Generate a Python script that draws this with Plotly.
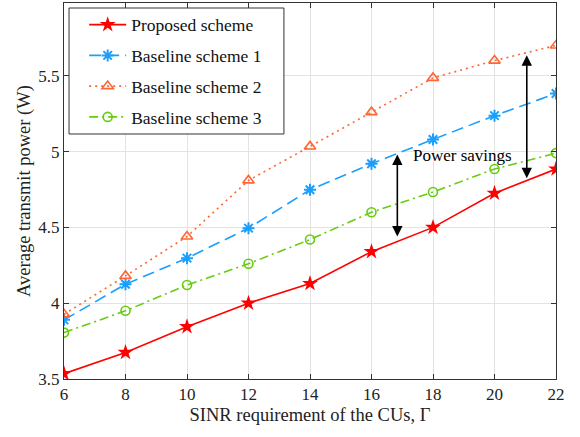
import plotly.graph_objects as go

x_vals = [6, 8, 10, 12, 14, 16, 18, 20, 22]
proposed = [3.535, 3.675, 3.845, 4.0, 4.13, 4.34, 4.50, 4.725, 4.885]
baseline1 = [3.89, 4.125, 4.297, 4.495, 4.748, 4.92, 5.08, 5.237, 5.383]
baseline2 = [3.927, 4.18, 4.44, 4.81, 5.034, 5.26, 5.486, 5.60, 5.70]
baseline3 = [3.806, 3.95, 4.12, 4.26, 4.42, 4.60, 4.733, 4.885, 4.99]

names = ["Proposed scheme", "Baseline scheme 1", "Baseline scheme 2", "Baseline scheme 3"]
x_ticks = [6, 8, 10, 12, 14, 16, 18, 20, 22]
y_ticks = [3.5, 4, 4.5, 5, 5.5]
y_tick_text = ["3.5", "4", "4.5", "5", "5.5"]

FONT = "Liberation Serif, Times New Roman, serif"
red = "#FF0000"
blue = "#1A9FFF"
orange = "#FF6633"
green = "#66CC11"

fig = go.Figure()
fig.add_trace(go.Scatter(x=x_vals, y=proposed, name=names[0], mode="lines+markers",
                         line=dict(color=red, width=1.6, dash="solid"),
                         marker=dict(symbol="star", size=12, color=red, line=dict(width=0)),
                         legendgroup="a"))
fig.add_trace(go.Scatter(x=x_vals, y=baseline1, name=names[1], mode="lines+markers",
                         line=dict(color=blue, width=1.6, dash="12px,6px"),
                         marker=dict(symbol="asterisk-open", size=10, color=blue, line=dict(width=2, color=blue)),
                         legendgroup="b"))
fig.add_trace(go.Scatter(x=x_vals, y=baseline2, name=names[2], mode="lines+markers",
                         line=dict(color=orange, width=1.6, dash="2px,4px"),
                         marker=dict(symbol="triangle-up-open", size=10, color=orange, line=dict(width=1.6, color=orange)),
                         legendgroup="c"))
fig.add_trace(go.Scatter(x=x_vals, y=baseline3, name=names[3], mode="lines+markers",
                         line=dict(color=green, width=1.6, dash="9px,4px,2px,4px"),
                         marker=dict(symbol="circle-open", size=9, color=green, line=dict(width=1.6, color=green)),
                         legendgroup="d"))

# double-headed arrows
arrows = [(16.84, 4.43, 4.98), (21.05, 4.815, 5.635)]
for ax_x, y0, y1 in arrows:
    fig.add_annotation(x=ax_x, y=y1, ax=ax_x, ay=y0, xref="x", yref="y", axref="x", ayref="y",
                       showarrow=True, arrowhead=2, arrowside="end+start", arrowsize=1.3,
                       arrowwidth=1.6, arrowcolor="black", text="")
fig.add_annotation(x=17.3, y=4.975, xref="x", yref="y", text="Power savings", showarrow=False,
                   xanchor="left", yanchor="middle", font=dict(family=FONT, size=17, color="black"))

# legend frame
fig.add_shape(type="rect", xref="paper", yref="paper", x0=0.0102, x1=0.447, y0=0.6516, y1=0.9867,
              line=dict(color="#333333", width=1), fillcolor="white", layer="above")

axis_common = dict(showgrid=True, gridcolor="#E3E3E3", gridwidth=1, showline=True, linecolor="#333333",
                   linewidth=1, mirror="ticks", ticks="inside", ticklen=5, tickcolor="#333333",
                   tickfont=dict(family=FONT, size=17, color="#222222"), zeroline=False)

fig.update_layout(
    width=580, height=437,
    margin=dict(l=64, r=24, t=3, b=58),
    paper_bgcolor="white", plot_bgcolor="white",
    font=dict(family=FONT, size=17, color="#222222"),
    xaxis=dict(range=[6, 22], tickvals=x_ticks,
               title=dict(text="SINR requirement of the CUs, Γ", font=dict(family=FONT, size=18.5), standoff=4),
               **axis_common),
    yaxis=dict(range=[3.5, 5.98], tickvals=y_ticks, ticktext=y_tick_text,
               title=dict(text="Average transmit power (W)", font=dict(family=FONT, size=18.5), standoff=2),
               **axis_common),
    legend=dict(x=0.041, y=0.99, xanchor="left", yanchor="top", bgcolor="rgba(0,0,0,0)",
                borderwidth=0, font=dict(family=FONT, size=17.5, color="#111111"),
                tracegroupgap=5, itemwidth=37),
)

fig.write_html("out.html", config={"displayModeBar": False},
               post_script="document.body.style.margin='0';")
